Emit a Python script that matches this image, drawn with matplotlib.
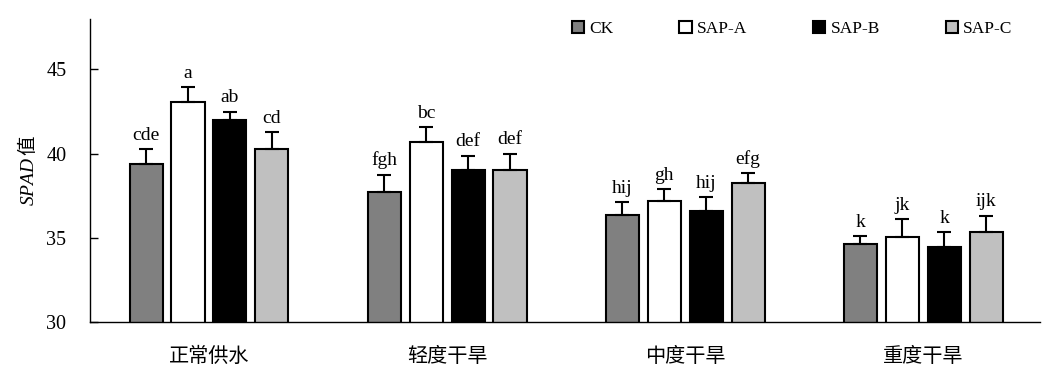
import matplotlib
matplotlib.use("Agg")
import matplotlib.pyplot as plt
import numpy as np

categories = ["正常供水", "轻度干旱", "中度干旱", "重度干旱"]
series_names = ["CK", "SAP-A", "SAP-B", "SAP-C"]
ck = [39.4, 37.73, 36.38, 34.66]
sap_a = [43.05, 40.67, 37.19, 35.06]
sap_b = [42.0, 39.03, 36.62, 34.43]
sap_c = [40.27, 39.0, 38.24, 35.35]
ck_err = [0.85, 1.0, 0.73, 0.42]
sap_a_err = [0.9, 0.9, 0.7, 1.04]
sap_b_err = [0.5, 0.83, 0.79, 0.9]
sap_c_err = [1.0, 1.0, 0.6, 0.95]
ck_lbl = ["cde", "fgh", "hij", "k"]
sap_a_lbl = ["a", "bc", "gh", "jk"]
sap_b_lbl = ["ab", "def", "hij", "k"]
sap_c_lbl = ["cd", "def", "efg", "ijk"]
yticks = [30, 35, 40, 45]

values = [ck, sap_a, sap_b, sap_c]
errs = [ck_err, sap_a_err, sap_b_err, sap_c_err]
lbls = [ck_lbl, sap_a_lbl, sap_b_lbl, sap_c_lbl]
colors = ["#808080", "#ffffff", "#000000", "#c0c0c0"]

plt.rcParams['font.family'] = ['Liberation Serif', 'Noto Sans CJK SC']
plt.rcParams['mathtext.fontset'] = 'custom'
plt.rcParams['mathtext.it'] = 'Liberation Serif:italic'
plt.rcParams['mathtext.rm'] = 'Noto Sans CJK SC'

fig = plt.figure(figsize=(10.58, 3.78), dpi=100)
ax = fig.add_axes([0.085, 0.148, 0.898, 0.802])

x = np.arange(len(categories))
pitch = 0.176
width = 0.139
for i, (v, e, lb, c, name) in enumerate(zip(values, errs, lbls, colors, series_names)):
    pos = x + (i - 1.5) * pitch
    ax.bar(pos, v, width=width, bottom=0, color=c, edgecolor='black', linewidth=1.5,
           label=name, zorder=2)
    ax.errorbar(pos, v, yerr=[np.zeros(len(e)), e], fmt='none', ecolor='black',
                elinewidth=1.5, capsize=5, capthick=1.5, zorder=3)
    for px, py, pe, t in zip(pos, v, e, lb):
        ax.annotate(t, (px, py + pe), xytext=(0, 4), textcoords='offset points',
                    ha='center', va='bottom', fontsize=14, family='Liberation Serif')

ax.set_xlim(-0.5, 3.49)
ax.set_ylim(30, 48)
ax.set_yticks(yticks)
ax.set_yticklabels([str(t) for t in yticks], fontsize=14.5)
ax.set_xticks(x)
ax.set_xticklabels(categories, fontsize=14.5, family='Noto Sans CJK SC')
ax.tick_params(axis='y', direction='in', length=6, width=1, pad=17)
ax.tick_params(axis='x', length=0, pad=17)
ax.spines['top'].set_visible(False)
ax.spines['right'].set_visible(False)
ax.spines['left'].set_linewidth(1)
ax.spines['bottom'].set_linewidth(1)
ax.set_ylabel(r'$\mathit{SPAD}\,\mathrm{值}$', fontsize=14, labelpad=6)

leg = ax.legend(loc='upper left', bbox_to_anchor=(0.5, 1.015), ncol=4, frameon=False,
                fontsize=12.5, handlelength=0.7, handleheight=0.7, handletextpad=0.3,
                columnspacing=3.8, borderaxespad=0)

fig.savefig("out.png", dpi=100)
